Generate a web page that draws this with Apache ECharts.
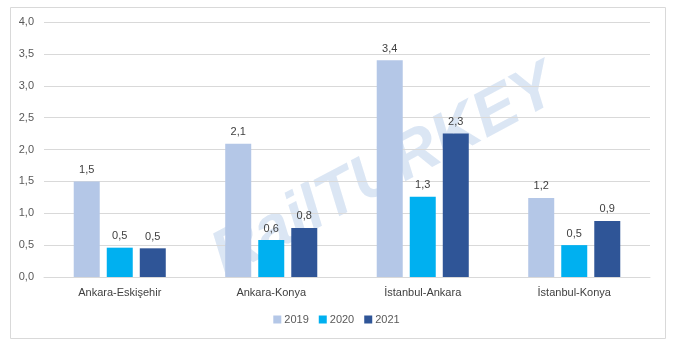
<!DOCTYPE html>
<html><head><meta charset="utf-8">
<script src="https://cdn.jsdelivr.net/npm/echarts@6/dist/echarts.min.js"></script>
<style>html,body{margin:0;padding:0;background:#fff}#c{width:673px;height:344px}</style>
</head><body><div id="c"></div>
<script>
const categories = ['Ankara-Eskişehir', 'Ankara-Konya', 'İstanbul-Ankara', 'İstanbul-Konya'];
const seriesNames = ['2019', '2020', '2021'];
const v2019 = [1.50, 2.09, 3.40, 1.24];
const v2020 = [0.46, 0.58, 1.26, 0.50];
const v2021 = [0.45, 0.77, 2.25, 0.88];
const colors = ['#b4c7e7', '#00b0f0', '#2f5597'];
const font = 'Liberation Sans, Arial, sans-serif';
const fmt = v => v.toFixed(1).replace('.', ',');

const chart = echarts.init(document.getElementById('c'));
const mk = (name, data, i) => ({
  name, type: 'bar', data, barWidth: 26, barGap: '27%',
  itemStyle: { color: colors[i] },
  label: { show: true, position: 'top', distance: 6, color: '#404040', fontSize: 11, fontFamily: font,
    formatter: p => fmt(p.value) },
  z: 5
});
chart.setOption({
  animation: false,
  textStyle: { fontFamily: font },
  grid: { left: 44, right: 23, top: 22, bottom: 67 },
  graphic: [
    { type: 'rect', shape: { x: 10.5, y: 7.5, width: 655, height: 331 },
      style: { fill: 'none', stroke: '#d9d9d9', lineWidth: 1 }, z: -100 },
    { type: 'text', x: 385, y: 172, rotation: 28 * Math.PI / 180, z: -50,
      style: { text: 'RailTURKEY', fontSize: 64, fontWeight: 'bold', fontStyle: 'italic', fontFamily: font,
        fill: 'rgba(190,210,235,0.55)', align: 'center', verticalAlign: 'middle' } }
  ],
  legend: {
    data: seriesNames, bottom: 14, left: 'center', itemWidth: 8, itemHeight: 8, itemGap: 10,
    icon: 'rect', textStyle: { color: '#595959', fontSize: 11, fontFamily: font, padding: [0, 0, 0, -2] }
  },
  xAxis: {
    type: 'category', data: categories,
    axisLine: { lineStyle: { color: '#d9d9d9' } }, axisTick: { show: false },
    axisLabel: { color: '#404040', fontSize: 11, fontFamily: font, margin: 10 }
  },
  yAxis: {
    type: 'value', min: 0, max: 4, interval: 0.5,
    axisLine: { show: false }, axisTick: { show: false },
    splitLine: { lineStyle: { color: '#d9d9d9' } },
    axisLabel: { color: '#595959', fontSize: 11, fontFamily: font, margin: 10, formatter: v => fmt(v) }
  },
  series: [mk('2019', v2019, 0), mk('2020', v2020, 1), mk('2021', v2021, 2)]
});
</script></body></html>
